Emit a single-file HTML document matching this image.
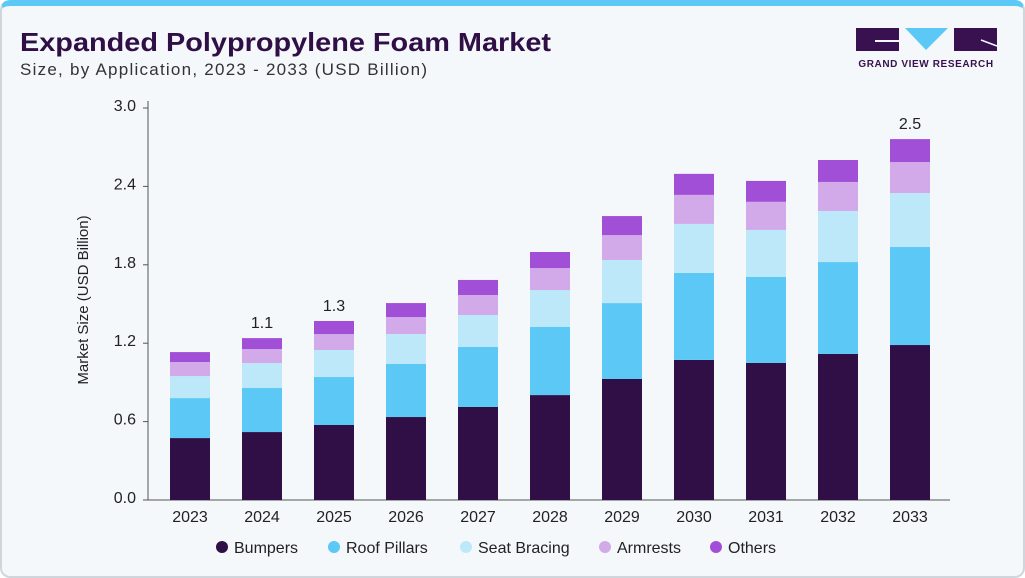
<!DOCTYPE html>
<html><head><meta charset="utf-8"><style>
body{margin:0;width:1025px;height:576px;background:#fff;font-family:"Liberation Sans",sans-serif;overflow:hidden}
#card{position:absolute;left:0;top:0;width:1021px;height:570px;border:2px solid #cfd6dc;border-top:6px solid #5bc8f5;border-radius:10px;background:#f4f8fb;box-sizing:content-box}
</style></head><body>
<div id="card"></div>
<svg width="1025" height="576" style="position:absolute;left:0;top:0" id="svg">
<text x="20" y="51" font-size="26" font-weight="bold" fill="#2f0f45" textLength="531" lengthAdjust="spacingAndGlyphs">Expanded Polypropylene Foam Market</text>
<text x="20" y="75" font-size="17" fill="#333" textLength="407">Size, by Application, 2023 - 2033 (USD Billion)</text>
<g>
<rect x="856" y="28" width="43" height="23" fill="#3a1150"/>
<rect x="875" y="40" width="24" height="2" fill="#f4f8fb"/>
<polygon points="905,28 948,28 926,50" fill="#5bc8f5"/>
<rect x="954" y="28" width="43" height="23" fill="#3a1150"/>
<line x1="981" y1="40" x2="997" y2="46" stroke="#f4f8fb" stroke-width="1.5"/>
<text x="926" y="67" font-size="10" font-weight="bold" fill="#3a1150" text-anchor="middle" letter-spacing="0.6">GRAND VIEW RESEARCH</text>
</g>
<text transform="translate(88,300) rotate(-90)" font-size="15" fill="#222" text-anchor="middle">Market Size (USD Billion)</text>
<g id="plot"></g>
<g id="legend"></g>
</svg>
<script>
const years=["2023","2024","2025","2026","2027","2028","2029","2030","2031","2032","2033"];
const bumpers=[0.474,0.520,0.574,0.635,0.712,0.803,0.926,1.072,1.049,1.118,1.186];
const roofPillars=[0.306,0.337,0.367,0.406,0.459,0.521,0.581,0.666,0.659,0.703,0.750];
const seatBracing=[0.168,0.191,0.207,0.229,0.245,0.283,0.330,0.375,0.359,0.391,0.413];
const armrests=[0.108,0.107,0.122,0.130,0.153,0.168,0.190,0.222,0.215,0.222,0.237];
const others=[0.076,0.084,0.100,0.107,0.115,0.123,0.146,0.161,0.160,0.168,0.176];
const yTicks=[0,0.6,1.2,1.8,2.4,3.0];
const labelYears=["2024","2025","2033"];
const labelTexts=["1.1","1.3","2.5"];
const seriesNames=["Bumpers","Roof Pillars","Seat Bracing","Armrests","Others"];
const series=[bumpers,roofPillars,seatBracing,armrests,others];
const colors=["#2f0f45","#5bc8f5","#bde8f9","#d2aaea","#a14fd6"];
const NS="http://www.w3.org/2000/svg";
const g=document.getElementById('plot');
const y0=500,y1=108,vmax=3.0;
const yS=v=>y0-(v/vmax)*(y0-y1);
const xS=i=>190+i*72;
function mk(t,a,p){const e=document.createElementNS(NS,t);for(const k in a)e.setAttribute(k,a[k]);(p||g).appendChild(e);return e;}
const ax=mk('line',{x1:148,y1:101,x2:148,y2:y0,stroke:'#555'});


const bx=mk('line',{x1:148,y1:y0,x2:950,y2:y0,stroke:'#555'});


yTicks.forEach(v=>{
  mk('line',{x1:143,y1:yS(v),x2:148,y2:yS(v),stroke:'#555'});
  const t=mk('text',{x:136,y:yS(v)+3,'font-size':16,fill:'#222','text-anchor':'end'});
  t.textContent=v.toFixed(1);
  
  
});
years.forEach((yr,i)=>{
  let acc=0;
  series.forEach((s,k)=>{
    const r=mk('rect',{x:xS(i)-20,y:yS(acc+s[i]),width:40,height:yS(acc)-yS(acc+s[i]),fill:colors[k]});
    
    
    acc+=s[i];
  });
  const t=mk('text',{x:xS(i),y:522,'font-size':16,fill:'#222','text-anchor':'middle'});
  t.textContent=yr;
  
  
  const li=labelYears.indexOf(yr);
  if(li>=0){
    const l=mk('text',{x:xS(i),y:yS(acc)-10,'font-size':16,fill:'#222','text-anchor':'middle'});
    l.textContent=labelTexts[li];
    
    
  }
});
const lg=document.getElementById('legend');
const lx=[222,334,466,605,716];
seriesNames.forEach((n,k)=>{
  const c=mk('circle',{cx:lx[k],cy:547,r:6,fill:colors[k]},lg);
  
  
  const t=mk('text',{x:lx[k]+12,y:553,'font-size':16,fill:'#222'},lg);
  t.textContent=n;
  
  
});
</script>
</body></html>
